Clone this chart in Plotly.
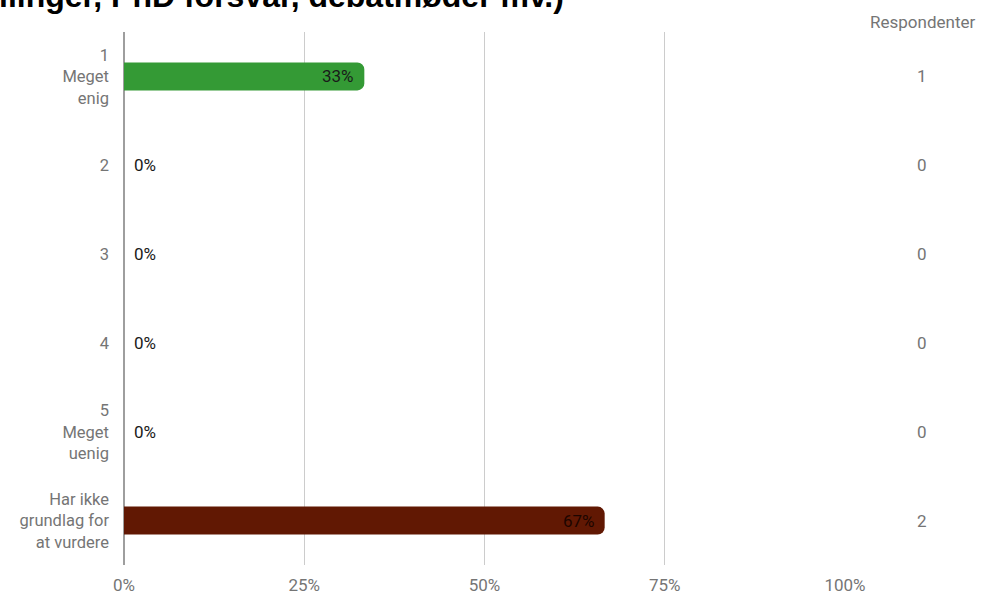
import plotly.graph_objects as go

categories = ["1<br>Meget<br>enig", "2", "3", "4", "5<br>Meget<br>uenig",
              "Har ikke<br>grundlag for<br>at vurdere"]
shares = [1/3, 0, 0, 0, 0, 2/3]
share_labels = ["33%", "0%", "0%", "0%", "0%", "67%"]
respondents = [1, 0, 0, 0, 0, 2]
bar_colors = ["#349a35", "#349a35", "#349a35", "#349a35", "#349a35", "#611803"]
label_colors = ["#1a1a1a", "#1a1a1a", "#1a1a1a", "#1a1a1a", "#1a1a1a", "#1c0500"]
tick_vals = [0, 0.25, 0.5, 0.75, 1.0]
tick_text = ["0%", "25%", "50%", "75%", "100%"]
title_text = "llinger, PhD forsvar, debatmøder mv.)"
column_header = "Respondenter"

W, H = 993, 597
L, R, T, B = 124, 148, 32, 32
plot_w = W - L - R
plot_h = H - T - B

fig = go.Figure()
fig.add_trace(go.Bar(
    y=list(range(len(categories))), x=shares, orientation="h",
    marker=dict(color=bar_colors, line=dict(width=0)),
    width=0.315,
    hoverinfo="skip",
))

# value labels
for i, (v, lab, c) in enumerate(zip(shares, share_labels, label_colors)):
    if v > 0:
        fig.add_annotation(x=v, xref="x", y=i, yref="y", text=lab,
                           xanchor="right", yanchor="middle", xshift=-8,
                           showarrow=False,
                           font=dict(size=17, color=c, family="Roboto"))
    else:
        fig.add_annotation(x=v, xref="x", y=i, yref="y", text=lab,
                           xanchor="left", yanchor="middle", xshift=8,
                           showarrow=False,
                           font=dict(size=17, color=c, family="Roboto"))

# respondent column
col_x = (922 - L) / plot_w
for i, n in enumerate(respondents):
    fig.add_annotation(x=col_x, xref="paper", y=i, yref="y",
                       xanchor="center", yanchor="middle",
                       text=str(n), showarrow=False,
                       font=dict(size=17, color="#757575", family="Roboto"))
fig.add_annotation(x=col_x, xref="paper", y=(H - B - 22) / plot_h, yref="paper",
                   xanchor="center", yanchor="middle",
                   text=column_header, showarrow=False,
                   font=dict(size=17, color="#757575", family="Roboto"))

# clipped title
fig.add_annotation(x=(-3 - L) / plot_w, xref="paper", xanchor="left",
                   y=(H - B + 4) / plot_h, yref="paper", yanchor="middle",
                   text="<b>" + title_text + "</b>", showarrow=False,
                   font=dict(size=32, color="#000000", family="Liberation Sans"))

fig.update_layout(
    width=W, height=H,
    margin=dict(l=L, r=R, t=T, b=B, pad=0, autoexpand=False),
    paper_bgcolor="white", plot_bgcolor="white",
    showlegend=False,
    barcornerradius=7,
    font=dict(family="Roboto", color="#757575", size=17),
    xaxis=dict(range=[0, 1], tickvals=tick_vals, ticktext=tick_text,
               showgrid=True, gridcolor="#cccccc", gridwidth=1,
               zeroline=True, zerolinecolor="#9e9e9e", zerolinewidth=2,
               showline=False, ticks="", ticklabelstandoff=8,
               tickfont=dict(size=17, color="#757575", family="Roboto"),
               automargin=False, fixedrange=True),
    yaxis=dict(range=[len(categories) - 0.5, -0.5],
               tickvals=list(range(len(categories))), ticktext=categories,
               showgrid=False, zeroline=False,
               showline=False, ticks="", ticklabelstandoff=14,
               tickfont=dict(size=16.5, color="#757575", family="Roboto"),
               automargin=False, fixedrange=True),
)

fig.write_html("out.html", config={"displayModeBar": False},
               post_script="document.body.style.margin='0';")
